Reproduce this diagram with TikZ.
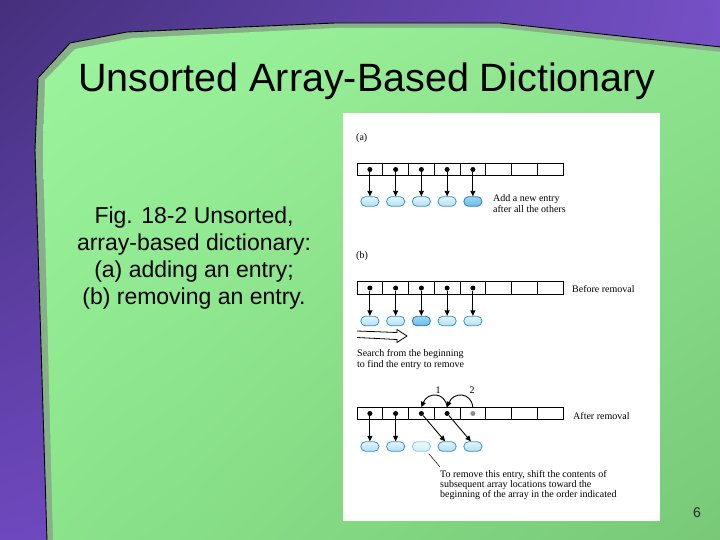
\documentclass[tikz,border=0pt]{standalone}
\usepackage{fontspec}
\setmainfont{Liberation Sans}
\newfontfamily\serifr{Liberation Serif}
\usetikzlibrary{arrows.meta,shadings}
\definecolor{bgUL}{HTML}{44307C}
\definecolor{bgUR}{HTML}{7550C6}
\definecolor{bgLL}{HTML}{6E48BE}
\definecolor{bgLR}{HTML}{7A55CA}
\definecolor{grUL}{HTML}{9CF59C}
\definecolor{grUR}{HTML}{8EE48E}
\definecolor{grLL}{HTML}{8AE48A}
\definecolor{grLR}{HTML}{78C878}
\definecolor{rim}{HTML}{88B088}
\definecolor{entrytop}{HTML}{E2F4FC}
\definecolor{entrybot}{HTML}{B5DFF3}
\definecolor{entryline}{HTML}{3A96C8}
\definecolor{hitop}{HTML}{9ED4F2}
\definecolor{hibot}{HTML}{6CBCE8}
\definecolor{hiline}{HTML}{2A7FB0}
\definecolor{fadetop}{HTML}{EEF8FD}
\definecolor{fadebot}{HTML}{D2ECF8}
\definecolor{fadeline}{HTML}{8CCBE8}
\begin{document}
\begin{tikzpicture}[x=1pt,y=-1pt,
  cell/.style={draw, line width=0.7pt, minimum width=25.75pt, minimum height=12.5pt, inner sep=0pt, outer sep=0pt},
  dot/.style={circle, fill=black, inner sep=0pt, minimum size=5pt},
  graydot/.style={dot, fill=black!45},
  entry/.style={draw=entryline, line width=0.8pt, rounded corners=4.5pt, minimum width=18pt, minimum height=9.5pt, inner sep=0pt, top color=entrytop, bottom color=entrybot},
  hientry/.style={entry, draw=hiline, top color=hitop, bottom color=hibot},
  fadeentry/.style={entry, draw=fadeline, top color=fadetop, bottom color=fadebot},
  ptr/.style={line width=0.9pt, -{Triangle[length=5.5pt,width=5pt]}},
  figtext/.style={font=\serifr\fontsize{10}{11}\selectfont, inner sep=0pt, align=left},
  captext/.style={font=\fontsize{23}{27}\selectfont, inner sep=0pt, anchor=base},
]
\useasboundingbox (0,0) rectangle (720,540);
\clip (0,0) rectangle (720,540);
% background
\shade[upper left=bgUL, upper right=bgUR, lower left=bgLL, lower right=bgLR] (0,0) rectangle (720,540);
% green panel
\fill[rim] (47,541) -- (35,150) -- (38,78) -- (70,43) -- (127,32) -- (335,23) -- (500,23) -- (721,47) -- (721,541) -- cycle;
\draw[black, line width=0.9pt] (47,541) -- (35,150) -- (38,78) -- (70,43) -- (127,32) -- (335,23) -- (500,23) -- (721,47);
\shade[upper left=grUL, upper right=grUR, lower left=grLL, lower right=grLR]
  (53,541) -- (43,150) -- (45,80) -- (75,49) -- (133,38) -- (335,28) -- (500,28) -- (721,52) -- (721,541) -- cycle;
% title and caption
\node[font=\fontsize{39.5}{44}\selectfont, inner sep=0pt, anchor=base] (title) at (367,92) {Unsorted Array-Based Dictionary};
\node[captext] (cap1) at (194,223) {Fig. 18-2 Unsorted,};
\node[captext] (cap2) at (194,250) {array-based dictionary:};
\node[captext] (cap3) at (194,277) {(a) adding an entry;};
\node[captext] (cap4) at (194,304) {(b) removing an entry.};
\node[font=\fontsize{14}{16}\selectfont, inner sep=0pt, anchor=base, text=black!85] (pagenum) at (697,517) {6};
% figure box
\fill[white] (343,113) rectangle (660,521);
% ---- (a)
\node[figtext, anchor=west] (la) at (356,138) {(a)};
\foreach \i in {1,...,8} \node[cell] (a\i) at ({357+(\i-0.5)*25.75},169.5) {};
\foreach \i in {1,...,5} \node[dot] (ad\i) at (a\i) {};
\foreach \i in {1,...,4} \node[entry] (ea\i) at ({357+(\i-0.5)*25.75},201.5) {};
\node[hientry] (ea5) at ({357+4.5*25.75},201.5) {};
\foreach \i in {1,...,5} \draw[ptr] (ad\i) -- (ea\i);
\node[figtext, anchor=north west] (ta) at (493,194.5) {Add a new entry\\after all the others};
% ---- (b)
\node[figtext, anchor=west] (lb) at (356,256) {(b)};
\foreach \i in {1,...,8} \node[cell] (b\i) at ({357+(\i-0.5)*25.75},288) {};
\foreach \i in {1,...,5} \node[dot] (bd\i) at (b\i) {};
\foreach \i in {1,2,4,5} \node[entry] (eb\i) at ({357+(\i-0.5)*25.75},321) {};
\node[hientry] (eb3) at ({357+2.5*25.75},321) {};
\foreach \i in {1,...,5} \draw[ptr] (bd\i) -- (eb\i);
\node[figtext, anchor=west] (tb) at (572,289) {Before removal};
\draw[line width=0.8pt, line join=miter] (357,331) -- (397,332.5) -- (397,329.5) -- (407,336) -- (397,342.5) -- (397,339.5) -- (357,337.5);
\node[figtext, anchor=north west] (ts) at (357,349.5) {Search from the beginning\\to find the entry to remove};
% ---- after removal
\foreach \i in {1,...,8} \node[cell] (c\i) at ({357+(\i-0.5)*25.75},413.5) {};
\foreach \i in {1,...,4} \node[dot] (cd\i) at (c\i) {};
\node[graydot] (cd5) at (c5) {};
\foreach \i in {1,2,4,5} \node[entry] (ec\i) at ({357+(\i-0.5)*25.75},446.5) {};
\node[fadeentry] (ec3) at ({357+2.5*25.75},446.5) {};
\draw[ptr] (cd1) -- (ec1);
\draw[ptr] (cd2) -- (ec2);
\draw[ptr] (cd3) -- ([xshift=-2pt]ec4.north);
\draw[ptr] (cd4) -- ([xshift=-2pt]ec5.north);
\draw[ptr] (c4.north) .. controls +(-2,-16) and +(6,-15) .. (c3.north);
\draw[ptr] (c5.north) .. controls +(-2,-16) and +(6,-15) .. (c4.north);
\node[figtext] (n1) at (438,390) {1};
\node[figtext] (n2) at (472,390) {2};
\node[figtext, anchor=west] (tc) at (573,416) {After removal};
\coordinate (lead) at (440,467);
\draw[line width=0.5pt] ([shift={(-2,2)}]ec3.south east) -- (lead);
\node[figtext, anchor=north west, font=\serifr\fontsize{10}{10}\selectfont] (tr) at (440,470.5) {To remove this entry, shift the contents of\\subsequent array locations toward the\\beginning of the array in the order indicated};
\end{tikzpicture}
\end{document}
